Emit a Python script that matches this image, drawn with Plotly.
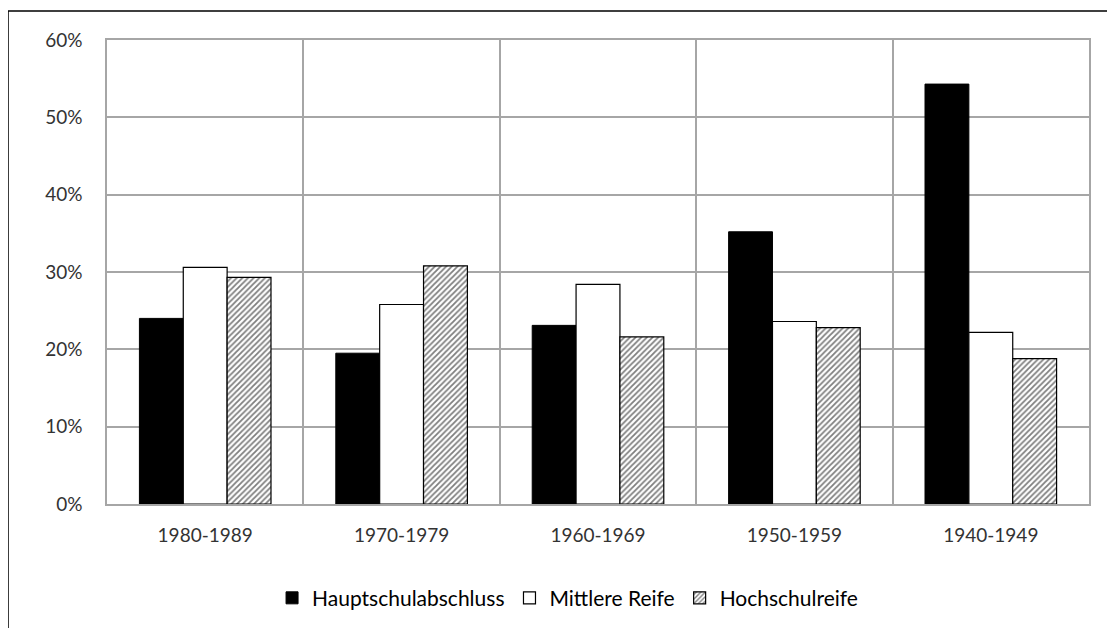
import plotly.graph_objects as go

# Geburtsjahrgänge und Anteile je Schulabschluss (in %)
kohorten = ['1980-1989', '1970-1979', '1960-1969', '1950-1959', '1940-1949']
hauptschule = [24.0, 19.5, 23.1, 35.2, 54.3]
mittlere_reife = [30.6, 25.8, 28.4, 23.6, 22.2]
hochschulreife = [29.3, 30.8, 21.6, 22.8, 18.8]

y_ticks = [0, 10, 20, 30, 40, 50, 60]
y_labels = [f'{v}%' for v in y_ticks]

font_family = 'Lato, "Liberation Sans", sans-serif'
grid_color = '#a6a6a6'
text_color = '#333333'

fig = go.Figure()

fig.add_trace(go.Bar(
    x=kohorten, y=hauptschule,
    name='Hauptschulabschluss',
    marker=dict(color='black', line=dict(color='black', width=1))
))

fig.add_trace(go.Bar(
    x=kohorten, y=mittlere_reife,
    name='Mittlere Reife',
    marker=dict(color='white', line=dict(color='black', width=1.2))
))

fig.add_trace(go.Bar(
    x=kohorten, y=hochschulreife,
    name='Hochschulreife',
    marker=dict(
        color='white',
        line=dict(color='black', width=1.2),
        pattern=dict(shape='/', fgcolor='black', bgcolor='white', size=4, solidity=0.45)
    )
))

fig.update_xaxes(
    type='category',
    tickson='boundaries',
    showgrid=True, gridcolor=grid_color, gridwidth=1.5,
    showline=True, linecolor=grid_color, linewidth=1.5, mirror=True,
    ticks='', ticklabelstandoff=13,
    tickfont=dict(size=19, color=text_color, family=font_family),
)

fig.update_yaxes(
    range=[0, 60], tickvals=y_ticks, ticktext=y_labels,
    showgrid=True, gridcolor=grid_color, gridwidth=1.5,
    showline=True, linecolor=grid_color, linewidth=1.5, mirror=True,
    zeroline=False,
    ticks='', ticklabelstandoff=19,
    tickfont=dict(size=19, color=text_color, family=font_family),
)

# schwarzer Rahmen um die Grafik
fig.add_shape(
    type='rect', xref='paper', yref='paper',
    x0=-0.1008, x1=1.0255, y0=-0.4, y1=1.0625,
    line=dict(color='black', width=1.5), layer='below'
)

# Ränder gleichen den Seitenrand (8 px) des HTML-Body aus
fig.update_layout(
    width=1115, height=628,
    barmode='group', bargap=0.33, bargroupgap=0,
    plot_bgcolor='white', paper_bgcolor='white',
    margin=dict(l=99, r=34, t=32, b=132),
    font=dict(family=font_family, color=text_color, size=18),
    legend=dict(
        orientation='h',
        x=0.469, xanchor='center',
        y=-0.203, yanchor='middle',
        font=dict(size=21, color='black'),
        itemwidth=30,
    ),
)

fig.write_html("out.html")
